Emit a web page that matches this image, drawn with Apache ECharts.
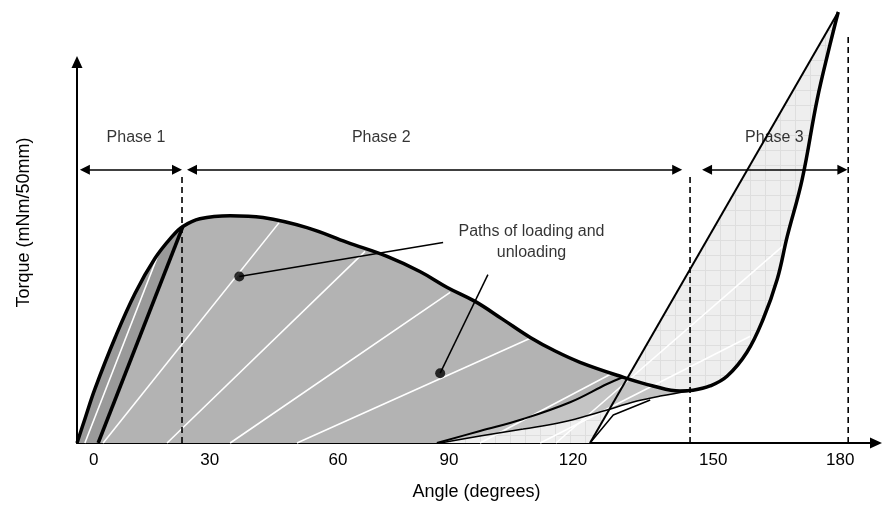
<!DOCTYPE html>
<html>
<head>
<meta charset="utf-8">
<script src="https://cdn.jsdelivr.net/npm/echarts@6/dist/echarts.min.js"></script>
<style>
  html, body { margin: 0; padding: 0; background: #fff; }
  #chart { width: 883px; height: 506px; }
</style>
</head>
<body>
<div id="chart"></div>
<script>
// tick labels and where they sit on the angle axis
const tickLabels = ['0', '30', '60', '90', '120', '150', '180'];
const tickAt = [0, 28.0, 58.9, 85.6, 115.5, 149.3, 179.9];

// loading path (thick outline), angle vs torque
const loadPath = [[-4.0, 0], [-2.1, 6.2], [0.3, 13.9], [5.2, 27.2], [10.0, 38.6], [14.8, 47.6], [18.9, 53.2],
  [21.5, 55.8], [25.6, 57.8], [32.9, 58.6], [40.8, 58.1], [51.4, 55.5], [61.1, 51.7], [70.7, 48.1],
  [78.6, 44.2], [85.2, 40.1], [91.9, 36.5], [98.4, 32.0], [105.2, 27.2], [111.2, 23.7], [117.2, 20.8], [126.9, 17.2],
  [134.8, 14.7], [141.3, 13.4], [144.4, 13.6], [148.5, 14.7], [152.6, 17.2], [157.4, 23.4], [161.3, 31.9],
  [164.7, 42.2], [167.1, 53.2], [170.7, 67.9], [174.3, 88.4], [177.4, 102.6], [179.4, 111.1]];

// unloading lines
const unload1 = [[1.1, 0], [21.5, 55.8]];
const unload3 = [[119.6, 0], [179.4, 111.1]];
const kink = [[119.6, 0], [125.2, 7.2], [134.1, 11.1]];
const curveA = [[82.7, 0], [93.1, 3.1], [103.5, 6.2], [114.8, 10.5], [123.7, 15.2], [127.6, 17.0]];
const curveB = [[83.5, 0], [93.1, 1.8], [103.5, 3.6], [113.1, 5.4], [122.0, 8.0], [130.9, 10.8], [136.5, 12.1], [143.7, 13.4]];

// white paths of loading and unloading
const whitePaths = [
  [[-2.1, 0], [16.3, 50.6]],
  [[2.3, 0], [44.7, 56.8]],
  [[17.7, 0], [65.4, 49.4]],
  [[32.9, 0], [85.9, 38.8]],
  [[49.0, 0], [105.2, 27.0]],
  [[93.1, 0], [130.0, 20.8]],
  [[107.6, 0], [158.2, 27.5]],
  [[111.4, 0], [165.9, 50.6]]
];

// phases
const phaseNames = ['Phase 1', 'Phase 2', 'Phase 3'];
const phaseLabelAt = [10.2, 69.3, 164.0];
const phaseSpans = [[-2.1, 20.1], [23.7, 140.6], [147.8, 180.4]];
const phaseBounds = [21.3, 143.7, 181.8];
const boundTops = [68.6, 69.2, 105.7];
const arrowLevel = 70.4;
const labelLevel = 78.7;

// annotation
const noteText = 'Paths of loading and\nunloading';
const noteAt = [105.5, 51.9];
const notePoints = [[35.1, 42.9], [83.5, 18.0]];
const noteStarts = [[84.2, 51.7], [95.0, 43.4]];

const font = "'Liberation Sans', Arial, sans-serif";

// polygons built from the paths
const idxJoin = 7;      // loadPath index at end of phase 1
const phase1Fill = loadPath.slice(0, idxJoin + 1).concat([unload1[0]]);
const phase2Fill = [unload1[0]].concat(loadPath.filter(p => p[0] >= 21.5 && p[0] <= 126.9),
  [curveA[curveA.length - 1]], curveA.slice().reverse());
const lensFill = curveA.concat(loadPath.filter(p => p[0] > 127.6 && p[0] < 143.7), curveB.slice().reverse());
const lightFill = [curveB[0], unload3[0], unload3[1]].concat(
  loadPath.filter(p => p[0] > 143.7).reverse(), curveB.slice().reverse());

// grid texture for the phase 3 area
const tile = document.createElement('canvas');
tile.width = 15; tile.height = 15;
const g = tile.getContext('2d');
g.fillStyle = '#eeeeee'; g.fillRect(0, 0, 15, 15);
g.fillStyle = '#dedede'; g.fillRect(0, 0, 15, 1); g.fillRect(0, 0, 1, 15);

function fillSeries(points, fill) {
  return {
    type: 'custom', z: 1, silent: true,
    data: [points[0]],
    renderItem: function (params, api) {
      return {
        type: 'polygon',
        shape: { points: points.map(function (p) { return api.coord(p); }) },
        style: { fill: fill }
      };
    }
  };
}

function pathSeries(points, color, width, opts) {
  opts = opts || {};
  return {
    type: 'line', data: points, symbol: 'none', silent: true, clip: false,
    smooth: opts.smooth || false,
    z: opts.z || 3,
    lineStyle: { color: color, width: width, type: opts.type || 'solid' }
  };
}

const series = [
  fillSeries(lightFill, { image: tile, repeat: 'repeat' }),
  fillSeries(lensFill, '#c4c4c4'),
  fillSeries(phase2Fill, '#b3b3b3'),
  fillSeries(phase1Fill, '#9a9a9a')
];
whitePaths.forEach(function (p) { series.push(pathSeries(p, '#ffffff', 1.6, { z: 2 })); });
series.push(pathSeries(curveB, '#000', 1.5, { smooth: 0.4 }));
series.push(pathSeries(kink, '#000', 1.5));
series.push(pathSeries(curveA, '#000', 2, { smooth: 0.4 }));
series.push(pathSeries(unload3, '#000', 2));
series.push(pathSeries(loadPath, '#000', 3.5, { smooth: 0.4, z: 4 }));
series.push(pathSeries(unload1, '#000', 3.5, { z: 4 }));
phaseBounds.forEach(function (x, i) {
  series.push(pathSeries([[x, 0], [x, boundTops[i]]], '#000', 1.6, { type: [6, 4], z: 4 }));
});
noteStarts.forEach(function (s, i) {
  series.push(pathSeries([s, notePoints[i]], '#000', 1.5, { z: 5 }));
});
series.push({
  type: 'line', data: [], silent: true,
  markLine: {
    silent: true, animation: false,
    symbol: ['triangle', 'triangle'], symbolSize: 10,
    label: { show: false },
    lineStyle: { color: '#000', width: 1.6, type: 'solid' },
    data: phaseSpans.map(function (s) {
      return [{ coord: [s[0], arrowLevel] }, { coord: [s[1], arrowLevel] }];
    })
  }
});
series.push({
  type: 'scatter', z: 6, silent: true, symbolSize: 10,
  itemStyle: { color: '#000' },
  data: notePoints
});
series.push({
  type: 'scatter', z: 2, silent: true, symbolSize: 1,
  itemStyle: { color: 'rgba(0,0,0,0)' },
  label: { show: true, position: 'inside', formatter: '{b}', fontSize: 16, color: '#000', fontFamily: font, lineHeight: 21, align: 'center' },
  data: phaseNames.map(function (n, i) { return { name: n, value: [phaseLabelAt[i], labelLevel] }; })
    .concat([{ name: noteText, value: noteAt }])
});

const chart = echarts.init(document.getElementById('chart'));
chart.setOption({
  animation: false,
  backgroundColor: '#fff',
  grid: { left: 77, right: 7, top: 62, bottom: 62 },
  xAxis: {
    type: 'value', min: -4, max: 188.5,
    splitLine: { show: false },
    axisTick: { show: false },
    axisLine: { lineStyle: { color: '#000', width: 2 }, symbol: ['none', 'triangle'], symbolSize: [11, 12] },
    axisLabel: {
      customValues: tickAt,
      formatter: function (v) {
        const i = tickAt.findIndex(function (t) { return Math.abs(t - v) < 1e-6; });
        return i < 0 ? '' : tickLabels[i];
      },
      fontSize: 17, color: '#000', margin: 9, fontFamily: font
    },
    name: 'Angle (degrees)', nameLocation: 'middle', nameGap: 40,
    nameTextStyle: { fontSize: 18, color: '#000', fontFamily: font }
  },
  yAxis: {
    type: 'value', min: 0, max: 98.2,
    splitLine: { show: false },
    axisTick: { show: false },
    axisLabel: { show: false },
    axisLine: { show: true, onZero: false, lineStyle: { color: '#000', width: 2 }, symbol: ['none', 'triangle'], symbolSize: [11, 12] },
    name: 'Torque (mNm/50mm)', nameLocation: 'middle', nameGap: 44,
    nameTextStyle: { fontSize: 18, color: '#000', fontFamily: font, padding: [0, 0, 0, 60] }
  },
  series: series
});
</script>
</body>
</html>
